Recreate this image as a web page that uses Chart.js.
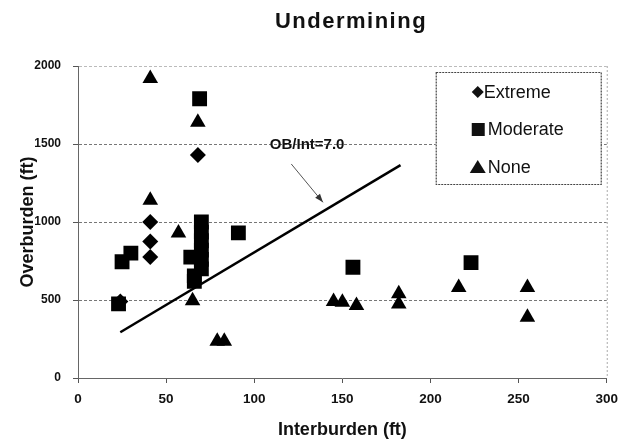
<!DOCTYPE html>
<html lang="en">
<head>
  <meta charset="UTF-8" />
  <title>Undermining</title>
  <script src="https://cdn.jsdelivr.net/npm/chart.js"></script>
  <style>
    html, body { margin: 0; padding: 0; background: #fff; }
    #wrap { width: 626px; height: 441px; }
  </style>
</head>
<body>
  <div id="wrap"><canvas id="chart" width="626" height="441"></canvas></div>

  <script>
    // values (ft)
    const extremeX = [24, 41, 41, 41, 68];
    const extremeY = [490, 1000, 875, 775, 1430];

    const moderateX = [23, 25, 30, 64, 66, 66, 69, 70, 70, 70, 70, 70, 70, 91, 156, 223];
    const moderateY = [475, 745, 800, 775, 655, 620, 1790, 1000, 935, 880, 820, 760, 700, 930, 710, 740];

    const noneX = [41, 68, 41, 57, 65, 79, 83, 145, 150, 158, 182, 182, 216, 255, 255];
    const noneY = [1920, 1640, 1140, 930, 495, 235, 235, 490, 485, 465, 540, 475, 580, 580, 390];

    // OB/Int = 7.0 line and its call-out arrow
    const ratioLineX = [24, 183];
    const ratioLineY = [293, 1365];
    const arrowX = [121, 139];
    const arrowY = [1372, 1126];
    const noteLabel = 'OB/Int=7.0';
    const notePos = { x: 130, y: 1494 };

    const xTicks = { min: 0, max: 300, step: 50 };
    const yTicks = { min: 0, max: 2000, step: 500 };

    const seriesNames = ['Extreme', 'Moderate', 'None'];

    const toPoints = (xs, ys) => xs.map((x, i) => ({ x: x, y: ys[i] }));
    const FONT = "'Liberation Sans', Arial, sans-serif";

    // title, note, arrow head, legend box and the dotted right edge
    const overlay = {
      id: 'overlay',
      afterDraw(chart) {
        const { ctx, chartArea, scales } = chart;
        const xs = scales.x, ys = scales.y;
        ctx.save();

        // dotted right frame
        ctx.strokeStyle = '#aaa';
        ctx.lineWidth = 1;
        ctx.setLineDash([2, 2]);
        ctx.beginPath();
        ctx.moveTo(chartArea.right + 0.5, chartArea.top);
        ctx.lineTo(chartArea.right + 0.5, chartArea.bottom);
        ctx.stroke();
        ctx.setLineDash([]);

        // title
        ctx.fillStyle = '#111';
        ctx.font = 'bold 22px ' + FONT;
        ctx.textAlign = 'center';
        ctx.textBaseline = 'middle';
        if ('letterSpacing' in ctx) ctx.letterSpacing = '1.5px';
        ctx.fillText('Undermining', 351, 22);
        if ('letterSpacing' in ctx) ctx.letterSpacing = '0px';

        // note text
        ctx.font = 'bold 15px ' + FONT;
        ctx.fillText(noteLabel, xs.getPixelForValue(notePos.x), ys.getPixelForValue(notePos.y));

        // arrow head at the tip of the call-out
        const x0 = xs.getPixelForValue(arrowX[0]), y0 = ys.getPixelForValue(arrowY[0]);
        const x1 = xs.getPixelForValue(arrowX[1]), y1 = ys.getPixelForValue(arrowY[1]);
        const a = Math.atan2(y1 - y0, x1 - x0);
        ctx.fillStyle = '#333';
        ctx.beginPath();
        ctx.moveTo(x1, y1);
        ctx.lineTo(x1 - 9 * Math.cos(a - 0.35), y1 - 9 * Math.sin(a - 0.35));
        ctx.lineTo(x1 - 9 * Math.cos(a + 0.35), y1 - 9 * Math.sin(a + 0.35));
        ctx.closePath();
        ctx.fill();

        // legend box
        const bx = chartArea.right - 171, by = chartArea.top + 6, bw = 165, bh = 112;
        ctx.fillStyle = '#fff';
        ctx.fillRect(bx, by, bw, bh);
        ctx.strokeStyle = '#444';
        ctx.lineWidth = 1.2;
        ctx.setLineDash([2, 1]);
        ctx.strokeRect(bx + 0.5, by + 0.5, bw, bh);
        ctx.setLineDash([]);

        ctx.fillStyle = '#111';
        ctx.font = '18px ' + FONT;
        ctx.textAlign = 'left';
        const rows = [by + 20, by + 57, by + 95];
        const mx = bx + 42;
        seriesNames.forEach((name, i) => {
          const cy = rows[i];
          ctx.beginPath();
          if (i === 0) {
            ctx.moveTo(mx, cy - 6); ctx.lineTo(mx + 6, cy); ctx.lineTo(mx, cy + 6); ctx.lineTo(mx - 6, cy);
          } else if (i === 1) {
            ctx.rect(mx - 6, cy - 6, 13, 13);
          } else {
            ctx.moveTo(mx, cy - 7); ctx.lineTo(mx + 8, cy + 6); ctx.lineTo(mx - 8, cy + 6);
          }
          ctx.closePath();
          ctx.fill();
          ctx.fillText(name, mx + (i === 0 ? 6 : 10), cy + 1);
        });

        ctx.restore();
      }
    };

    const ctx = document.getElementById('chart').getContext('2d');

    new Chart(ctx, {
      type: 'scatter',
      data: {
        datasets: [
          {
            label: 'Extreme',
            data: toPoints(extremeX, extremeY),
            pointStyle: 'rectRot',
            pointRadius: 8,
            backgroundColor: '#000',
            borderColor: '#000',
            borderWidth: 0
          },
          {
            label: 'Moderate',
            data: toPoints(moderateX, moderateY),
            pointStyle: 'rect',
            pointRadius: 10.5,
            backgroundColor: '#000',
            borderColor: '#000',
            borderWidth: 0
          },
          {
            label: 'None',
            data: toPoints(noneX, noneY),
            pointStyle: 'triangle',
            pointRadius: 9,
            backgroundColor: '#000',
            borderColor: '#000',
            borderWidth: 0
          },
          {
            label: 'OB/Int=7.0',
            data: toPoints(ratioLineX, ratioLineY),
            showLine: true,
            pointRadius: 0,
            borderColor: '#000',
            borderWidth: 2.5
          },
          {
            label: 'arrow',
            data: toPoints(arrowX, arrowY),
            showLine: true,
            pointRadius: 0,
            borderColor: '#555',
            borderWidth: 1
          }
        ]
      },
      options: {
        responsive: false,
        animation: false,
        layout: { padding: { top: 66, right: 13, bottom: 0, left: 0 } },
        plugins: {
          legend: { display: false },
          tooltip: { enabled: false }
        },
        scales: {
          x: {
            type: 'linear',
            min: xTicks.min,
            max: xTicks.max,
            afterFit(scale) { scale.height = 63; },
            ticks: {
              stepSize: xTicks.step,
              color: '#111',
              padding: 8,
              maxRotation: 0,
              font: { family: FONT, size: 13.5, weight: 'bold' }
            },
            grid: {
              drawOnChartArea: false,
              drawTicks: true,
              tickLength: 5,
              color: '#555'
            },
            border: { display: true, color: '#666', width: 1 },
            title: {
              display: true,
              text: 'Interburden (ft)',
              color: '#111',
              padding: { top: 0, bottom: 0 },
              font: { family: FONT, size: 18, weight: 'bold' }
            }
          },
          y: {
            type: 'linear',
            min: yTicks.min,
            max: yTicks.max,
            afterFit(scale) { scale.width = 78; },
            ticks: {
              stepSize: yTicks.step,
              color: '#111',
              padding: 12,
              callback: (v) => String(v),
              font: { family: FONT, size: 12, weight: 'bold' }
            },
            grid: {
              color: (c) => (c.tick && c.tick.value === yTicks.max ? '#bbb' : '#777'),
              lineWidth: 1,
              drawTicks: true,
              tickLength: 5,
              tickColor: '#555'
            },
            border: { display: true, color: '#666', width: 1, dash: [3, 2] },
            title: {
              display: true,
              text: 'Overburden (ft)',
              color: '#111',
              padding: { top: 17, bottom: 0 },
              font: { family: FONT, size: 18, weight: 'bold' }
            }
          }
        }
      },
      plugins: [overlay]
    });
  </script>
</body>
</html>
